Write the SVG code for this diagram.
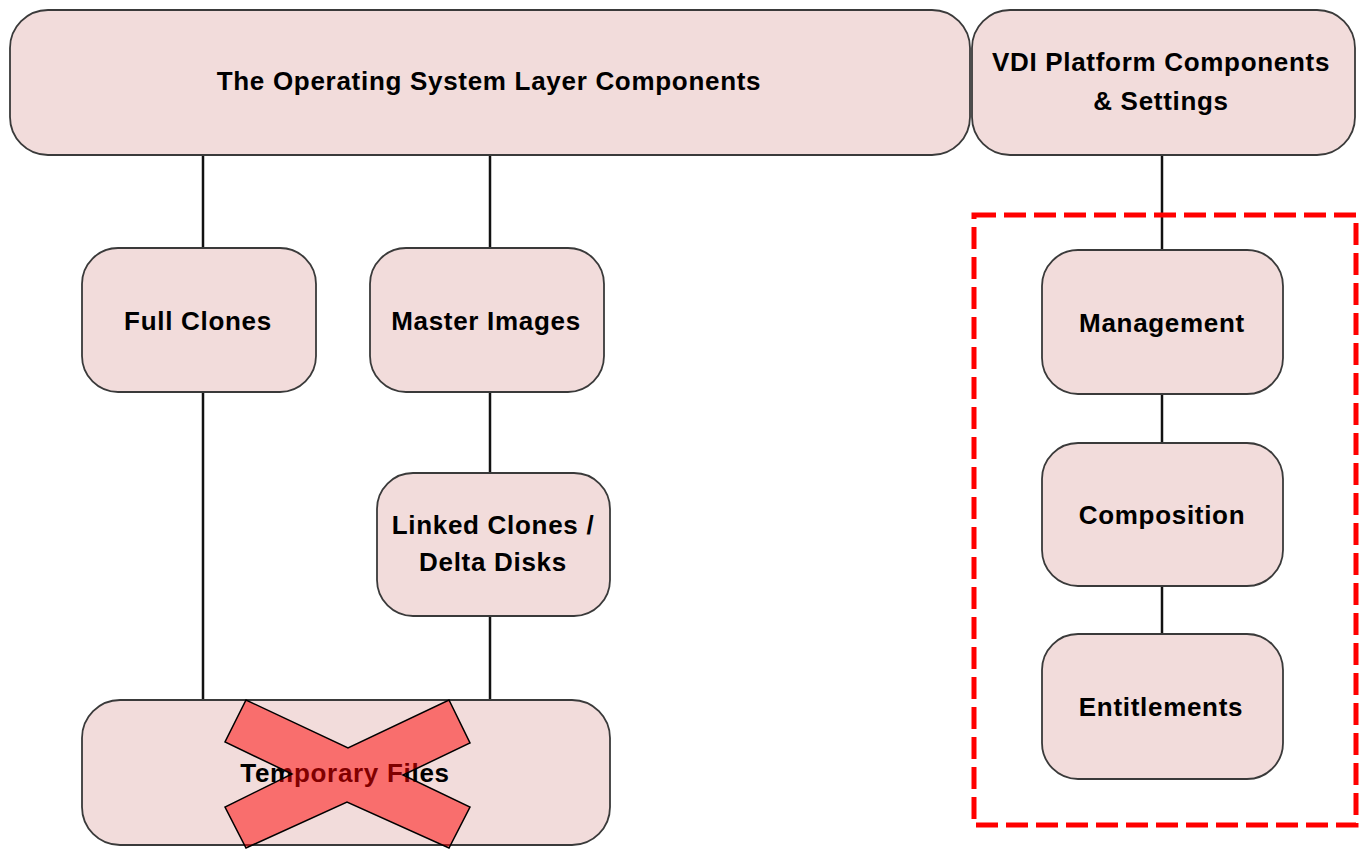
<svg xmlns="http://www.w3.org/2000/svg" width="1364" height="850" viewBox="0 0 1364 850">
<style>
.box{fill:#F2DCDB;stroke:#3a3a3a;stroke-width:1.8}
.lbl{font-family:"Liberation Sans",Arial,sans-serif;font-weight:bold;font-size:26px;letter-spacing:0.7px;fill:#000;text-anchor:middle}
.conn line{stroke:#111;stroke-width:2.5}
</style>
<rect width="1364" height="850" fill="#fff"/>
<g class="conn">
<line x1="203" y1="155" x2="203" y2="248"/>
<line x1="203" y1="392" x2="203" y2="700"/>
<line x1="490" y1="155" x2="490" y2="248"/>
<line x1="490" y1="392" x2="490" y2="473"/>
<line x1="490" y1="616" x2="490" y2="700"/>
<line x1="1162" y1="155" x2="1162" y2="250"/>
<line x1="1162" y1="394" x2="1162" y2="443"/>
<line x1="1162" y1="586" x2="1162" y2="634"/>
</g>
<g id="os-layer"><rect class="box" x="10" y="10" width="960" height="145" rx="38"/><text class="lbl" x="489" y="90">The Operating System Layer Components</text></g>
<g id="vdi-platform"><rect class="box" x="972" y="10" width="383" height="145" rx="38"/><text class="lbl" x="1161" y="71">VDI Platform Components</text><text class="lbl" x="1161" y="110">&amp; Settings</text></g>
<g id="full-clones"><rect class="box" x="82" y="248" width="234" height="144" rx="36"/><text class="lbl" x="198" y="330">Full Clones</text></g>
<g id="master-images"><rect class="box" x="370" y="248" width="234" height="144" rx="36"/><text class="lbl" x="486" y="330">Master Images</text></g>
<g id="linked-clones"><rect class="box" x="377" y="473" width="233" height="143" rx="36"/><text class="lbl" x="493" y="534">Linked Clones /</text><text class="lbl" x="493" y="571">Delta Disks</text></g>
<g id="temporary-files"><rect class="box" x="82" y="700" width="528" height="145" rx="38"/><text class="lbl" x="345" y="782">Temporary Files</text></g>
<g id="management"><rect class="box" x="1042" y="250" width="241" height="144" rx="36"/><text class="lbl" x="1162" y="332">Management</text></g>
<g id="composition"><rect class="box" x="1042" y="443" width="241" height="143" rx="36"/><text class="lbl" x="1162" y="524">Composition</text></g>
<g id="entitlements"><rect class="box" x="1042" y="634" width="241" height="145" rx="36"/><text class="lbl" x="1161" y="716">Entitlements</text></g>
<g id="highlight"><rect x="974" y="215" width="382" height="610" fill="none" stroke="#FF0000" stroke-width="5" stroke-dasharray="22 8"/></g>
<g id="cross"><polygon points="246,700 348,748 449,700 470,743 403,775 470,807 449,848 347,802 246,848 225,807 292,774 225,742" fill="#FF0000" fill-opacity="0.5" stroke="#000" stroke-width="1.5"/></g>
</svg>
